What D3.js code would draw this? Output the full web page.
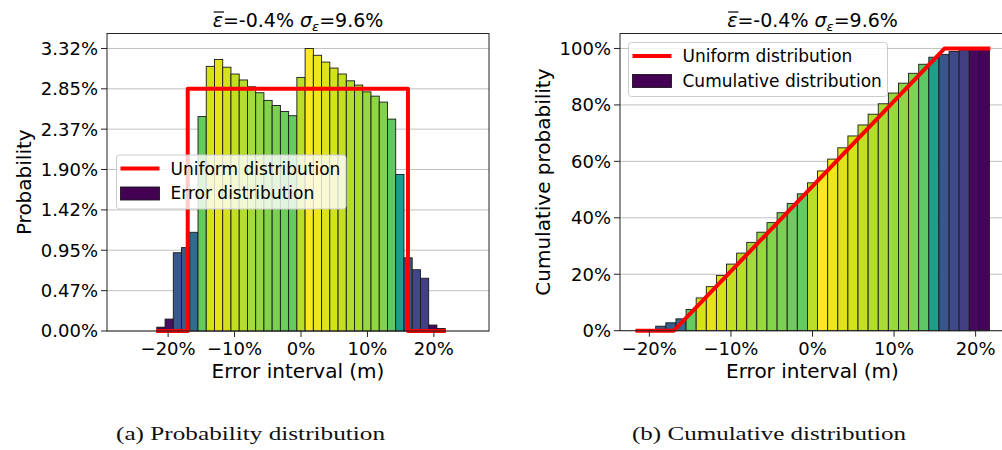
<!DOCTYPE html>
<html lang="en">
<head>
<meta charset="UTF-8">
<title>Error distribution</title>
<script src="https://d3js.org/d3.v7.min.js"></script>
<style>
  body { margin: 0; background: #fff; }
  svg { display: block; font-family: "DejaVu Sans", sans-serif; }
  .grid line { stroke: #b0b0b0; stroke-width: 0.8; }
  .bar { stroke: #1a1a1a; stroke-width: 0.9; }
  .frame { fill: none; stroke: #222; stroke-width: 1; }
  .tick-label { font-size: 18px; fill: #000; }
  .axis-label { font-size: 20px; fill: #000; }
  .title { font-size: 19px; fill: #000; }
  .uniform { fill: none; stroke: #ff0000; stroke-width: 4; stroke-linejoin: round; }
  .legend-box { fill: #fff; fill-opacity: 0.8; stroke: #cccccc; stroke-width: 1; }
  .legend-text { font-size: 17px; fill: #000; }
  .caption { font-family: "Liberation Serif", serif; font-size: 19px; fill: #111; }
</style>
</head>
<body>
<svg id="chart" width="1002" height="450"></svg>
<script>
// histogram bin edges, in % of error
const binEdges = [-21.70, -20.46, -19.22, -17.98, -16.74, -15.50, -14.26, -13.02, -11.78,
    -10.54, -9.30, -8.06, -6.82, -5.58, -4.34, -3.10, -1.86, -0.62, 0.62, 1.86, 3.10,
    4.34, 5.58, 6.82, 8.06, 9.30, 10.54, 11.78, 13.02, 14.26, 15.50, 16.74, 17.98,
    19.22, 20.46, 21.70];

// probability per bin (%), as read on the left axis
const probability = [0.045, 0.14, 0.92, 0.98, 1.16, 2.52, 3.11, 3.19, 3.10, 3.02, 2.95,
    2.87, 2.80, 2.71, 2.65, 2.58, 2.53, 2.98, 3.32, 3.24, 3.16, 3.09, 3.02, 2.94, 2.89,
    2.81, 2.76, 2.69, 2.49, 1.84, 0.86, 0.72, 0.62, 0.07, 0.03];

// cumulative probability per bin (%)
const cumulative = [0.05, 0.25, 1.6, 2.8, 4.2, 7.5, 11.6, 15.6, 19.6, 23.6, 27.5, 31.3,
    34.9, 38.3, 41.8, 45.1, 48.5, 52.4, 56.6, 60.8, 64.8, 69.0, 72.9, 76.7, 80.4, 84.2,
    87.7, 91.2, 94.4, 96.9, 97.9, 98.9, 99.5, 99.8, 100.0];

// uniform reference distribution
const uniformPdf = [[-21.8, 0], [-17.05, 0], [-17.05, 2.846], [16.1, 2.846], [16.1, 0], [21.8, 0]];
const uniformCdf = [[-21.7, 0], [-17.0, 0], [16.2, 100], [21.8, 100]];

const probTicks = [0, 0.474, 0.949, 1.423, 1.898, 2.372, 2.846, 3.32];
const cumTicks = [0, 20, 40, 60, 80, 100];
const errorTicks = [-20, -10, 0, 10, 20];

const svg = d3.select('#chart');
const probMax = d3.max(probability);
const colorOf = i => d3.interpolateViridis(probability[i] / probMax);

function fmtError(v) {
    return (v < 0 ? '\u2212' + Math.abs(v) : v) + '%';
}

function drawPanel(cfg) {
    const x = d3.scaleLinear().domain(cfg.xDomain).range([cfg.left, cfg.right]);
    const y = d3.scaleLinear().domain(cfg.yDomain).range([cfg.bottom, cfg.top]);
    const g = svg.append('g');

    // horizontal grid
    g.append('g').attr('class', 'grid')
        .selectAll('line').data(cfg.yTicks).enter().append('line')
        .attr('x1', cfg.left).attr('x2', cfg.right)
        .attr('y1', d => y(d)).attr('y2', d => y(d));

    // bars
    g.selectAll('.bar').data(cfg.values).enter().append('rect')
        .attr('class', 'bar')
        .attr('x', (d, i) => x(binEdges[i]))
        .attr('width', (d, i) => x(binEdges[i + 1]) - x(binEdges[i]))
        .attr('y', d => y(d))
        .attr('height', d => y(0) - y(d))
        .attr('fill', (d, i) => colorOf(i));

    // uniform line
    g.append('path').attr('class', 'uniform')
        .attr('d', d3.line().x(d => x(d[0])).y(d => y(d[1]))(cfg.uniform));

    // frame
    g.append('rect').attr('class', 'frame')
        .attr('x', cfg.left).attr('y', cfg.top)
        .attr('width', cfg.right - cfg.left).attr('height', cfg.bottom - cfg.top);

    // y ticks
    const yt = g.selectAll('.ytick').data(cfg.yTicks).enter().append('g')
        .attr('transform', d => `translate(${cfg.left},${y(d)})`);
    yt.append('line').attr('x1', -6).attr('x2', 0).attr('stroke', '#222');
    yt.append('text').attr('class', 'tick-label')
        .attr('x', -9).attr('dy', '0.36em').attr('text-anchor', 'end')
        .text(cfg.yFormat);

    // x ticks
    const xt = g.selectAll('.xtick').data(errorTicks).enter().append('g')
        .attr('transform', d => `translate(${x(d)},${cfg.bottom})`);
    xt.append('line').attr('y1', 0).attr('y2', 6).attr('stroke', '#222');
    xt.append('text').attr('class', 'tick-label')
        .attr('y', 24).attr('text-anchor', 'middle')
        .text(fmtError);

    // axis labels
    g.append('text').attr('class', 'axis-label')
        .attr('x', (cfg.left + cfg.right) / 2).attr('y', 378)
        .attr('text-anchor', 'middle').text('Error interval (m)');
    g.append('text').attr('class', 'axis-label')
        .attr('transform', `translate(${cfg.yLabelX},${(cfg.top + cfg.bottom) / 2}) rotate(-90)`)
        .attr('text-anchor', 'middle').text(cfg.yLabel);

    // title: mean and std of error
    const tx = (cfg.left + cfg.right) / 2;
    const title = g.append('text').attr('class', 'title')
        .attr('x', tx).attr('y', 27).attr('text-anchor', 'middle');
    title.append('tspan').attr('font-style', 'italic').text('\u03b5');
    title.append('tspan').text('=-0.4% ');
    title.append('tspan').attr('font-style', 'italic').text('\u03c3');
    title.append('tspan').attr('font-style', 'italic').attr('font-size', '13px')
        .attr('dy', 4).text('\u03b5');
    title.append('tspan').attr('dy', -4).text('=9.6%');
    const ext = title.node().getExtentOfChar(0);
    g.append('line')
        .attr('x1', ext.x + 1).attr('x2', ext.x + ext.width + 1)
        .attr('y1', ext.y + 3).attr('y2', ext.y + 3)
        .attr('stroke', '#000').attr('stroke-width', 1.2);

    // legend
    const lg = g.append('g').attr('transform', `translate(${cfg.legend.x},${cfg.legend.y})`);
    lg.append('rect').attr('class', 'legend-box')
        .attr('width', cfg.legend.w).attr('height', 54).attr('rx', 3);
    lg.append('line').attr('x1', 4).attr('x2', 43).attr('y1', 13.5).attr('y2', 13.5)
        .attr('stroke', '#ff0000').attr('stroke-width', 4);
    lg.append('rect').attr('x', 4).attr('y', 32).attr('width', 39).attr('height', 13)
        .attr('fill', d3.interpolateViridis(0)).attr('stroke', '#1a1a1a').attr('stroke-width', 0.9);
    lg.append('text').attr('class', 'legend-text').attr('x', 54).attr('y', 19.5)
        .text('Uniform distribution');
    lg.append('text').attr('class', 'legend-text').attr('x', 54).attr('y', 44)
        .text(cfg.legend.label);

    // caption
    svg.append('text').attr('class', 'caption')
        .attr('x', cfg.caption.x).attr('y', 440)
        .attr('textLength', cfg.caption.len).attr('lengthAdjust', 'spacingAndGlyphs')
        .text(cfg.caption.text);
}

drawPanel({
    left: 107, right: 489, top: 33.5, bottom: 331,
    xDomain: [-29.2, 28.3], yDomain: [0, 3.496],
    values: probability, uniform: uniformPdf,
    yTicks: probTicks, yFormat: d => d.toFixed(2) + '%',
    yLabel: 'Probability', yLabelX: 31,
    legend: { x: 116.5, y: 155, w: 229.5, label: 'Error distribution' },
    caption: { x: 116, len: 269, text: '(a) Probability distribution' }
});

drawPanel({
    left: 620, right: 1005, top: 33.5, bottom: 330.7,
    xDomain: [-23.6, 23.6], yDomain: [0, 105.3],
    values: cumulative, uniform: uniformCdf,
    yTicks: cumTicks, yFormat: d => d + '%',
    yLabel: 'Cumulative probability', yLabelX: 550,
    legend: { x: 628.5, y: 42.5, w: 259, label: 'Cumulative distribution' },
    caption: { x: 632, len: 274, text: '(b) Cumulative distribution' }
});
</script>
</body>
</html>
